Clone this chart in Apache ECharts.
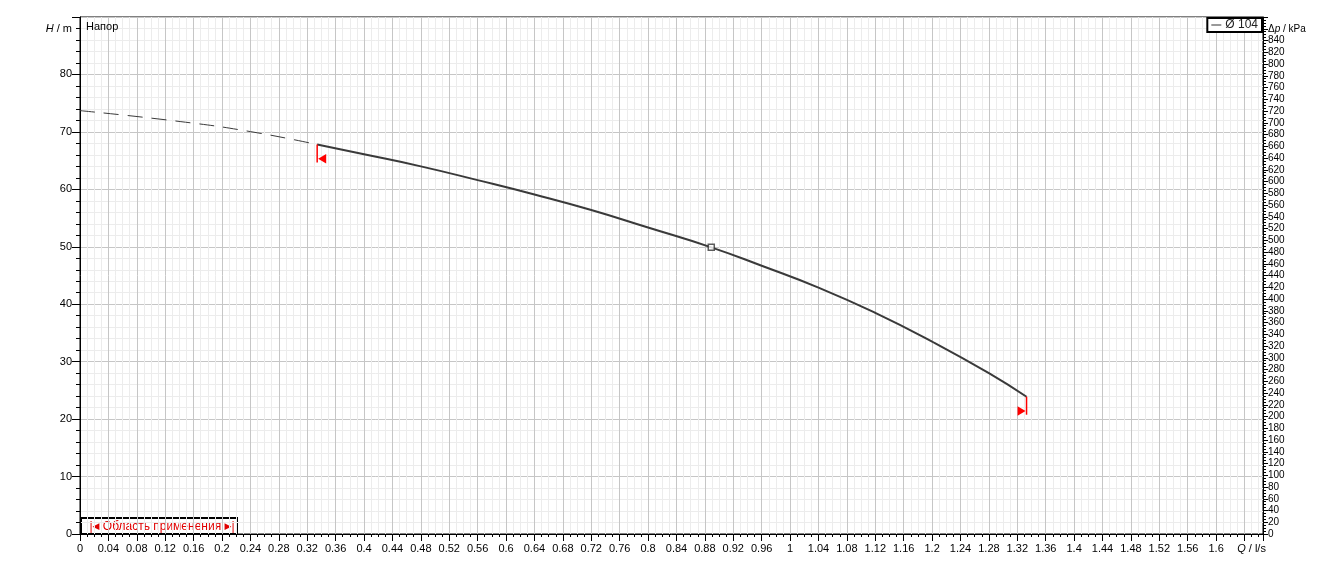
<!DOCTYPE html>
<html><head><meta charset="utf-8">
<script src="https://cdn.jsdelivr.net/npm/echarts@6/dist/echarts.min.js"></script>
<style>html,body{margin:0;padding:0;background:#fff}#c{width:1344px;height:571px}</style>
</head><body><div id="c"></div>
<script>
// ---- data ----
const dashedQ = [0, 0.141, 0.24, 0.334];
const dashedH = [73.7, 71.8, 70.05, 67.8];
const curveQ = [0.334, 0.40, 0.48, 0.56, 0.64, 0.72, 0.80, 0.889, 0.96, 1.04, 1.12, 1.20, 1.28, 1.333];
const curveH = [67.8, 66.1, 64.0, 61.6, 59.1, 56.4, 53.35, 49.9, 46.7, 42.9, 38.5, 33.5, 28.0, 23.9];
const dutyQ = [0.889];
const dutyH = [49.9];
const limitQ = [0.334, 1.333];
const limitH = [67.8, 23.9];
const limitDir = [-1, 1];
const seriesName = 'Ø 104';
const curveTitle = 'Напор';
const rangeLabel = '{s||}{a|◀} Область применения {a|▶}{s||}';
const xAxisName = '{q|Q} / l/s';
const yAxisName = '{i|H} / m';
const y2AxisName = 'Δ{i|p} / kPa';
const xMin = 0, xMax = 1.666, xStep = 0.01, xLabelStep = 0.04, xNameAt = 1.64;
const yMin = 0, yMax = 90, yStep = 2, yLabelStep = 10, yNameAt = 88;
const y2Min = 0, y2Max = 880, y2Step = 5, y2LabelStep = 20, y2NameAt = 860;

const FONT = "'Liberation Sans', Arial, sans-serif";
const zip = (a, b) => a.map((v, i) => [v, b[i]]);

const chart = echarts.init(document.getElementById('c'), null, {renderer: 'canvas'});

const xLabel = v => {
  const n = Math.round(v * 100);
  if (n % Math.round(xLabelStep * 100) !== 0) return '';
  if (n === Math.round(xNameAt * 100)) return xAxisName;
  if (n > Math.round(xNameAt * 100)) return '';
  return String(+(n / 100).toFixed(2));
};
const yLabel = v => {
  const n = Math.round(v);
  if (n === yNameAt) return yAxisName;
  if (n % yLabelStep !== 0 || n >= yMax) return '';
  return String(n);
};
const y2Label = v => {
  const n = Math.round(v);
  if (n === y2NameAt) return y2AxisName;
  if (n % y2LabelStep !== 0 || n >= y2Max) return '';
  return String(n);
};

const majorC = '#c6c6c6', minorC = '#ececec';

chart.setOption({
  animation: false,
  backgroundColor: '#fff',
  title: {text: curveTitle, left: 86, top: 21, padding: 0, textStyle: {fontSize: 11, fontWeight: 'normal', color: '#000', fontFamily: FONT}},
  legend: {
    right: 82, top: 18, padding: [1, 4, 1, 4], borderColor: '#000', borderWidth: 2, backgroundColor: '#fff',
    itemWidth: 10, itemHeight: 1, itemGap: 0,
    data: [{name: seriesName, icon: 'rect', itemStyle: {color: '#333'}}],
    textStyle: {fontSize: 12, color: '#222', fontFamily: FONT, padding: [0, 0, 0, -1]}
  },
  grid: {left: 80, top: 17, right: 81, bottom: 37, show: true, borderColor: '#000', borderWidth: 1},
  xAxis: [
    {type: 'value', min: xMin, max: xMax, interval: xStep, position: 'bottom',
     axisLine: {show: true, lineStyle: {color: '#000', width: 1}},
     axisTick: {show: true, length: 3, lineStyle: {color: '#000'}},
     axisLabel: {formatter: xLabel, margin: 9, fontSize: 11, color: '#000', fontFamily: FONT, showMaxLabel: false,
       rich: {q: {fontStyle: 'italic', fontSize: 11, color: '#000', fontFamily: FONT, padding: [0, 0, 0, 14]}}},
     splitLine: {show: true, lineStyle: {width: 1, color: [majorC, minorC, minorC, minorC]}}},
    {type: 'value', min: xMin, max: xMax, interval: xLabelStep, position: 'bottom',
     axisLine: {show: false}, axisTick: {show: true, length: 7, lineStyle: {color: '#000'}},
     axisLabel: {show: false}, splitLine: {show: false}}
  ],
  yAxis: [
    {type: 'value', min: yMin, max: yMax, interval: yStep, position: 'left',
     axisLine: {show: true, lineStyle: {color: '#000', width: 1}},
     axisTick: {show: true, length: 4, lineStyle: {color: '#000'}},
     axisLabel: {formatter: yLabel, margin: 8, fontSize: 11, color: '#000', fontFamily: FONT,
       rich: {i: {fontStyle: 'italic', fontSize: 11, color: '#000', fontFamily: FONT}}},
     splitLine: {show: true, lineStyle: {width: 1, color: [majorC, minorC, minorC, minorC, minorC]}}},
    {type: 'value', min: yMin, max: yMax, interval: yLabelStep, position: 'left',
     axisLine: {show: false}, axisTick: {show: true, length: 8, lineStyle: {color: '#000'}},
     axisLabel: {show: false}, splitLine: {show: false}},
    {type: 'value', min: y2Min, max: y2Max, interval: y2Step, position: 'right',
     axisLine: {show: true, lineStyle: {color: '#000', width: 1}},
     axisTick: {show: true, length: 3, lineStyle: {color: '#000'}},
     axisLabel: {formatter: y2Label, margin: 5, fontSize: 10, color: '#000', fontFamily: "'Liberation Sans Narrow', " + FONT,
       rich: {i: {fontStyle: 'italic', fontSize: 10, color: '#000', fontFamily: "'Liberation Sans Narrow', " + FONT}}},
     splitLine: {show: false}},
    {type: 'value', min: y2Min, max: y2Max, interval: y2LabelStep, position: 'right',
     axisLine: {show: false}, axisTick: {show: true, length: 5, lineStyle: {color: '#000'}},
     axisLabel: {show: false}, splitLine: {show: false}}
  ],
  graphic: [{
    type: 'group', left: 80, top: 517, z: 100,
    children: [
      {type: 'rect', shape: {x: 1, y: 1, width: 156, height: 16}, style: {fill: '#fff', stroke: '#000', lineWidth: 2}},
      {type: 'text', x: 82, y: 9.5, style: {text: rangeLabel, fill: '#e00000', font: '12px ' + FONT, align: 'center', verticalAlign: 'middle',
        rich: {a: {fontSize: 9, fill: '#e00000', fontFamily: 'DejaVu Sans'}, s: {fontSize: 12, fill: '#e00000', fontFamily: FONT}}}}
    ]
  }],
  series: [
    {name: 'dashed', type: 'line', xAxisIndex: 0, yAxisIndex: 0, data: zip(dashedQ, dashedH), smooth: true,
     showSymbol: false, silent: true, lineStyle: {color: '#3a3a3a', width: 1, type: [15, 9]}, z: 3},
    {name: seriesName, type: 'line', xAxisIndex: 0, yAxisIndex: 0, data: zip(curveQ, curveH), smooth: true,
     showSymbol: false, color: '#3a3a3a', lineStyle: {color: '#3a3a3a', width: 2}, z: 4},
    {name: 'duty', type: 'scatter', xAxisIndex: 0, yAxisIndex: 0, data: zip(dutyQ, dutyH), symbol: 'rect', symbolSize: 6,
     itemStyle: {color: '#fff', borderColor: '#333', borderWidth: 1.5}, z: 6},
    {name: 'limits', type: 'custom', xAxisIndex: 0, yAxisIndex: 0,
     data: limitQ.map((q, i) => [q, limitH[i], limitDir[i]]),
     renderItem: (params, api) => {
       const p = api.coord([api.value(0), api.value(1)]);
       const d = api.value(2);
       const x = p[0], y = p[1];
       return {type: 'group', children: [
         {type: 'line', shape: {x1: x, y1: y, x2: x, y2: y + 18}, style: {stroke: '#ff0000', lineWidth: 1.5}},
         {type: 'polygon', shape: {points: [[x - d * 1, y + 14.3], [x - d * 9, y + 9.5], [x - d * 9, y + 19]]}, style: {fill: '#ff0000'}}
       ]};
     }, z: 5}
  ]
});
</script></body></html>
